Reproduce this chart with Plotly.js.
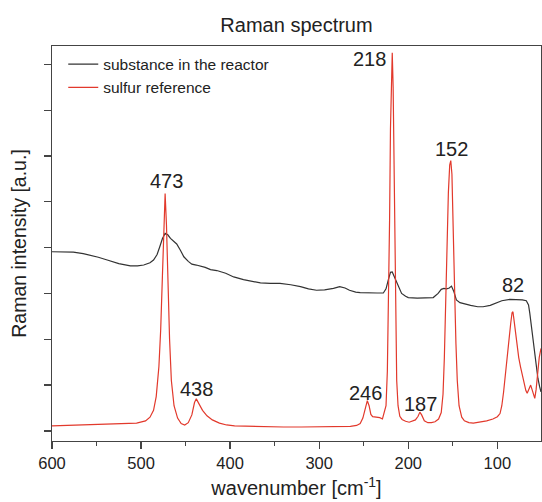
<!DOCTYPE html>
<html>
<head>
<meta charset="utf-8">
<script src="https://cdn.plot.ly/plotly-3.0.1.min.js"></script>
<style>html,body{margin:0;padding:0;background:#fff;}#chart{width:542px;height:502px;}</style>
</head>
<body>
<div id="chart"></div>
<script>
// Sulfur reference (red) - wavenumber [cm-1]
const refX = [600,580,560,540,520,505,495,490,486,483,480,478,476,474.5,473,471.5,470,468,466,463,459,455,451,447,443,440,438,435,431,426,420,412,404,395,380,360,340,320,300,280,265,258,254,251,248,246,244,242,240,236,232,229,227,225,223.5,222,221,220,219,218,217,216,215,214,213,211.5,209.5,207,203,199,195,192,189,187,185,182,178,174,170,166,163,161,159.5,158,156.5,155,153.5,152.3,151,149.5,148,146.5,145,143,140,137,132,127,120,112,105,100,97,95,93,91,89,87,85,83.5,82.5,81.5,80,78,76,74,72,70,68,66.5,64.5,62.6,61,59,58,56.5,55,53,51];
const refY = [0.11,0.12,0.13,0.14,0.15,0.17,0.22,0.30,0.45,0.75,1.4,2.2,3.4,4.6,5.18,4.5,3.3,2.0,1.1,0.55,0.28,0.16,0.13,0.18,0.35,0.62,0.70,0.60,0.45,0.33,0.24,0.17,0.13,0.11,0.10,0.09,0.085,0.085,0.09,0.09,0.10,0.12,0.16,0.28,0.55,0.66,0.55,0.36,0.31,0.30,0.29,0.26,0.40,0.55,1.3,2.8,4.6,6.6,7.9,8.25,7.5,5.6,3.6,2.0,1.1,0.55,0.32,0.25,0.21,0.19,0.21,0.24,0.32,0.41,0.35,0.22,0.18,0.18,0.20,0.26,0.40,0.8,1.6,2.8,4.2,5.2,5.8,5.9,5.6,4.6,3.1,1.9,1.1,0.55,0.30,0.22,0.18,0.17,0.19,0.22,0.26,0.31,0.38,0.55,0.85,1.25,1.65,2.0,2.35,2.58,2.60,2.45,2.2,1.85,1.6,1.4,1.2,1.05,0.88,0.82,0.90,1.0,0.9,0.75,0.71,0.9,1.2,1.6,1.80];

// Substance in the reactor (black)
const rxX = [600,590,576,565,557,548,538,525,512,504,497,490,486,482,479,476,473,470,467,464,460,456,452,447,443,438,434,428,422,415,405,396,385,375,366,355,344,332,321,312,303,294,284,277,271,266,259,254,245,235,228,225,222.5,220,218,216,213,210,207.5,203,200,190,180,172,166.5,163,160,157,154,151.5,149,146,142,138.6,130,122,116,108,101,95,86,78,72,67.5,65,63.6,62,60,58,56.3,54.5,52.6,51];
const rxY = [3.91,3.91,3.90,3.87,3.84,3.79,3.73,3.65,3.60,3.60,3.62,3.67,3.73,3.85,4.02,4.20,4.31,4.28,4.20,4.15,4.08,3.95,3.80,3.70,3.64,3.62,3.60,3.57,3.52,3.50,3.44,3.36,3.30,3.26,3.23,3.22,3.22,3.19,3.15,3.10,3.07,3.08,3.11,3.15,3.12,3.07,3.03,3.02,3.01,3.01,3.01,3.10,3.29,3.46,3.47,3.38,3.22,3.10,3.00,2.94,2.91,2.90,2.90,2.91,3.00,3.09,3.11,3.10,3.12,3.16,3.05,2.86,2.80,2.78,2.74,2.71,2.71,2.74,2.80,2.84,2.87,2.87,2.86,2.84,2.75,2.57,2.30,1.98,1.65,1.40,1.15,0.97,0.85];

// Peak labels
const peakLabels = ['473','218','152','82','438','246','187'];
const peakX = [472, 218, 151.5, 83, 438, 247.5, 186];
const labelY = [5.46, 8.11, 6.15, 3.18, 0.92, 0.83, 0.59];

const xTicks = [600, 500, 400, 300, 200, 100];
const yTicks = [0, 1, 2, 3, 4, 5, 6, 7, 8];

const FONT = 'Liberation Sans, Arial, sans-serif';

const traces = [
  {x: rxX, y: rxY, mode: 'lines', name: 'substance in the reactor',
   line: {color: '#333333', width: 1.2}},
  {x: refX, y: refY, mode: 'lines', name: 'sulfur reference',
   line: {color: '#e2392c', width: 1.2}}
];

const annotations = peakLabels.map((t, i) => {
  const a = {x: peakX[i], y: labelY[i], xref: 'x', yref: 'y', text: t, showarrow: false,
    font: {family: FONT, size: 20, color: '#222'}, xanchor: 'center', yanchor: 'middle'};
  if (t === '218') { a.xanchor = 'right'; a.xshift = -4; }
  return a;
});

const layout = {
  width: 542, height: 502,
  margin: {l: 52, r: 1, t: 46, b: 61},
  paper_bgcolor: '#fff', plot_bgcolor: '#fff',
  font: {family: FONT, color: '#222'},
  title: {text: 'Raman spectrum', font: {family: FONT, size: 20, color: '#222'},
    x: 0.5, xref: 'paper', xanchor: 'center', y: 0.95, yanchor: 'middle'},
  showlegend: true,
  legend: {x: 0.023, y: 0.996, xanchor: 'left', yanchor: 'top', bgcolor: 'rgba(0,0,0,0)',
    font: {family: FONT, size: 15.5, color: '#222'}, tracegroupgap: 0},
  xaxis: {
    range: [600, 51], showgrid: false, zeroline: false,
    showline: true, linecolor: '#444', linewidth: 1.3, mirror: true,
    tickmode: 'array', tickvals: xTicks, ticktext: xTicks.map(String),
    ticks: 'outside', ticklen: 7, tickcolor: '#444', tickwidth: 1.3,
    tickfont: {family: FONT, size: 16.5, color: '#222'},
    minor: {dtick: 50, tick0: 0, ticks: 'outside', ticklen: 4, tickcolor: '#444', tickwidth: 1.3, showgrid: false},
    title: {text: 'wavenumber [cm<sup>-1</sup>]', font: {family: FONT, size: 20, color: '#222'}, standoff: 10}
  },
  yaxis: {
    range: [-0.22, 8.4], showgrid: false, zeroline: false,
    showline: true, linecolor: '#444', linewidth: 1.3, mirror: true,
    tickmode: 'array', tickvals: yTicks, showticklabels: false,
    ticks: 'outside', ticklen: 7, tickcolor: '#444', tickwidth: 1.3,
    title: {text: 'Raman intensity [a.u.]', font: {family: FONT, size: 19.5, color: '#222'}, standoff: 12}
  },
  annotations: annotations
};

Plotly.newPlot('chart', traces, layout, {displayModeBar: false, staticPlot: true});
</script>
</body>
</html>
